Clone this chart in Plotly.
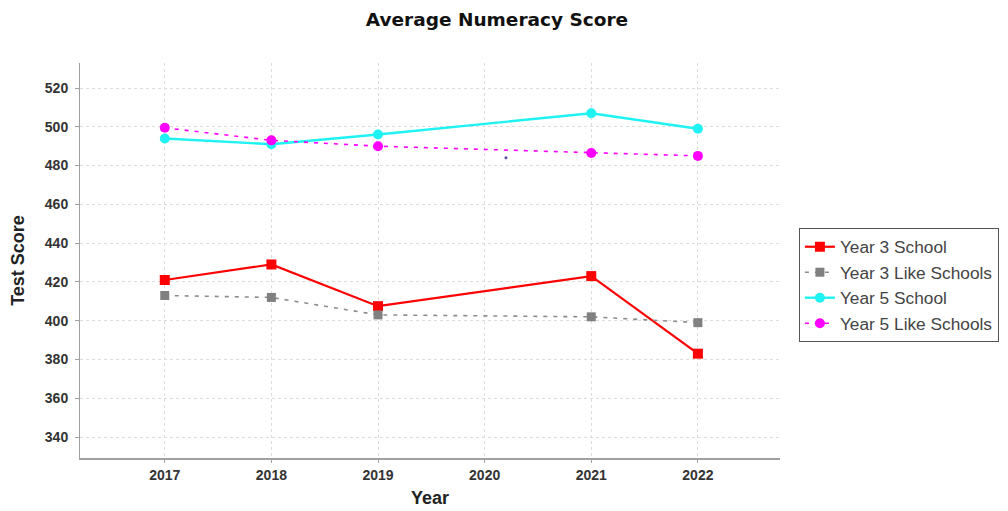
import plotly.graph_objects as go

title_text = "Average Numeracy Score"
x_title = "Year"
y_title = "Test Score"

tick_years = [2017, 2018, 2019, 2020, 2021, 2022]
years = [2017, 2018, 2019, 2021, 2022]

y3_school = [421, 429, 407.5, 423, 383]
y3_like = [413, 412, 403, 402, 399]
y5_school = [494, 491, 496, 507, 499]
y5_like = [499.5, 493, 490, 486.5, 485]

series_names = ["Year 3 School", "Year 3 Like Schools", "Year 5 School", "Year 5 Like Schools"]

# small stray dot visible in the reference
stray_x = [2020.2]
stray_y = [484]

fig = go.Figure()

fig.add_trace(go.Scatter(
    x=years, y=y3_school, name=series_names[0], mode="lines+markers",
    line=dict(color="#FF0000", width=2.2),
    marker=dict(symbol="square", size=10, color="#FF0000"),
))
fig.add_trace(go.Scatter(
    x=years, y=y3_like, name=series_names[1], mode="lines+markers",
    line=dict(color="#8C8C8C", width=1.6, dash="4px,6px"),
    marker=dict(symbol="square", size=9, color="#808080"),
))
fig.add_trace(go.Scatter(
    x=years, y=y5_school, name=series_names[2], mode="lines+markers",
    line=dict(color="#1EF2F2", width=2.4),
    marker=dict(symbol="circle", size=10, color="#1EF2F2"),
))
fig.add_trace(go.Scatter(
    x=years, y=y5_like, name=series_names[3], mode="lines+markers",
    line=dict(color="#FF00FF", width=1.6, dash="4px,6px"),
    marker=dict(symbol="circle", size=10, color="#FF00FF"),
))
fig.add_trace(go.Scatter(
    x=stray_x, y=stray_y, mode="markers", showlegend=False, hoverinfo="skip",
    marker=dict(symbol="circle", size=3, color="#5A4FA8"),
))

tick_font = dict(family="Liberation Sans, Arial, sans-serif", size=14, color="#333333")
title_font = dict(family="Liberation Sans, Arial, sans-serif", size=18, color="#222222")

# page has an 8px body margin, so the figure is 8px smaller and shifted
fig.update_layout(
    width=1000, height=503,
    margin=dict(l=72, r=228, t=55, b=53, autoexpand=False),
    paper_bgcolor="white", plot_bgcolor="white",
    title=dict(
        text="<b>" + title_text + "</b>",
        x=489 / 1000, xref="container", xanchor="center",
        y=1 - 12 / 503, yref="container", yanchor="middle",
        font=dict(family="DejaVu Sans, Verdana, sans-serif", size=18.5, color="#111111"),
    ),
    legend=dict(
        x=1.027, xanchor="left", y=0.438, yanchor="middle",
        bordercolor="#555555", borderwidth=1, bgcolor="white",
        font=dict(family="Liberation Sans, Arial, sans-serif", size=17.3, color="#444444"),
        itemwidth=30,
    ),
    showlegend=True,
)

fig.update_xaxes(
    range=[2016.205, 2022.77],
    tickmode="array", tickvals=tick_years, ticktext=[f"<b>{t}</b>" for t in tick_years],
    tickfont=tick_font,
    automargin=False,
    title=dict(text="<b>" + x_title + "</b>", font=title_font, standoff=10),
    showgrid=True, gridcolor="#DCDCDC", griddash="dot", gridwidth=1,
    showline=True, linecolor="#A0A0A0", linewidth=2,
    ticks="outside", ticklen=3, tickcolor="#A0A0A0",
    zeroline=False,
)
fig.update_yaxes(
    range=[329.2, 532.9],
    tickmode="array", tickvals=list(range(340, 521, 20)),
    ticktext=[f"<b>{v}</b>" for v in range(340, 521, 20)],
    tickfont=tick_font,
    ticklabelstandoff=4,
    automargin=False,
    title=dict(text="<b>" + y_title + "</b>", font=title_font, standoff=15),
    showgrid=True, gridcolor="#DCDCDC", griddash="dot", gridwidth=1,
    showline=True, linecolor="#A0A0A0", linewidth=1,
    ticks="outside", ticklen=4, tickcolor="#A0A0A0",
    zeroline=False,
)

fig.write_html("out.html")
